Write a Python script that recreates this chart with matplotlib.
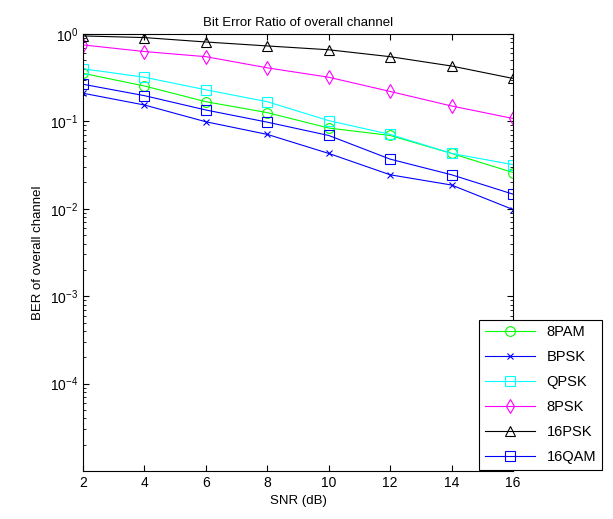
import matplotlib.pyplot as plt
import numpy as np

plt.rcParams['font.family'] = ['Liberation Sans', 'DejaVu Sans']
plt.rcParams['font.size'] = 9.5

snr = [2, 4, 6, 8, 10, 12, 14, 16]

ber_8pam = [0.355, 0.254, 0.168, 0.126, 0.084, 0.069, 0.043, 0.026]
ber_bpsk = [0.21, 0.154, 0.099, 0.071, 0.043, 0.0245, 0.0187, 0.0098]
ber_qpsk = [0.40, 0.32, 0.23, 0.168, 0.102, 0.071, 0.043, 0.032]
ber_8psk = [0.75, 0.63, 0.55, 0.41, 0.32, 0.22, 0.15, 0.108]
ber_16psk = [0.95, 0.91, 0.81, 0.73, 0.66, 0.55, 0.43, 0.31]
ber_16qam = [0.266, 0.197, 0.135, 0.098, 0.069, 0.037, 0.0245, 0.0147]

fig = plt.figure(figsize=(6.13, 5.19), dpi=100)
ax = fig.add_axes([0.1354, 0.0925, 0.7015, 0.842])

kw = dict(linewidth=0.8, markersize=7, fillstyle='none', markeredgewidth=0.8)
ax.semilogy(snr, ber_8pam, '-o', color=(0, 1, 0), label='8PAM', **kw)
ax.semilogy(snr, ber_bpsk, '-x', color=(0, 0, 1), label='BPSK', linewidth=0.8, markersize=4, markeredgewidth=0.8)
ax.semilogy(snr, ber_qpsk, '-s', color=(0, 1, 1), label='QPSK', **kw)
ax.semilogy(snr, ber_8psk, '-d', color=(1, 0, 1), label='8PSK', linewidth=0.8, markersize=7.5, fillstyle='none', markeredgewidth=0.8)
ax.semilogy(snr, ber_16psk, '-^', color='black', label='16PSK', **kw)
ax.semilogy(snr, ber_16qam, '-s', color=(0, 0, 1), label='16QAM', **kw)

ax.set_xlim(2, 16)
ax.set_ylim(1e-5, 1)
ax.set_xticks(snr)
ax.set_yticks([1e-4, 1e-3, 1e-2, 1e-1, 1])
ax.tick_params(which='both', direction='in', top=True, right=True, labelsize=10)
ax.tick_params(which='major', length=4)
ax.tick_params(which='minor', length=2)

ax.set_title('Bit Error Ratio of overall channel', fontsize=9.5)
ax.set_xlabel('SNR (dB)')
ax.set_ylabel('BER of overall channel')

leg = ax.legend(loc='lower right', bbox_to_anchor=(602 / 613, 1 - 470 / 519),
                bbox_transform=fig.transFigure, fancybox=False, framealpha=1,
                edgecolor='black', handlelength=3.4, labelspacing=0.75,
                borderaxespad=0, fontsize=10.5)
leg.get_frame().set_linewidth(0.8)

fig.savefig('out.png', dpi=100)
